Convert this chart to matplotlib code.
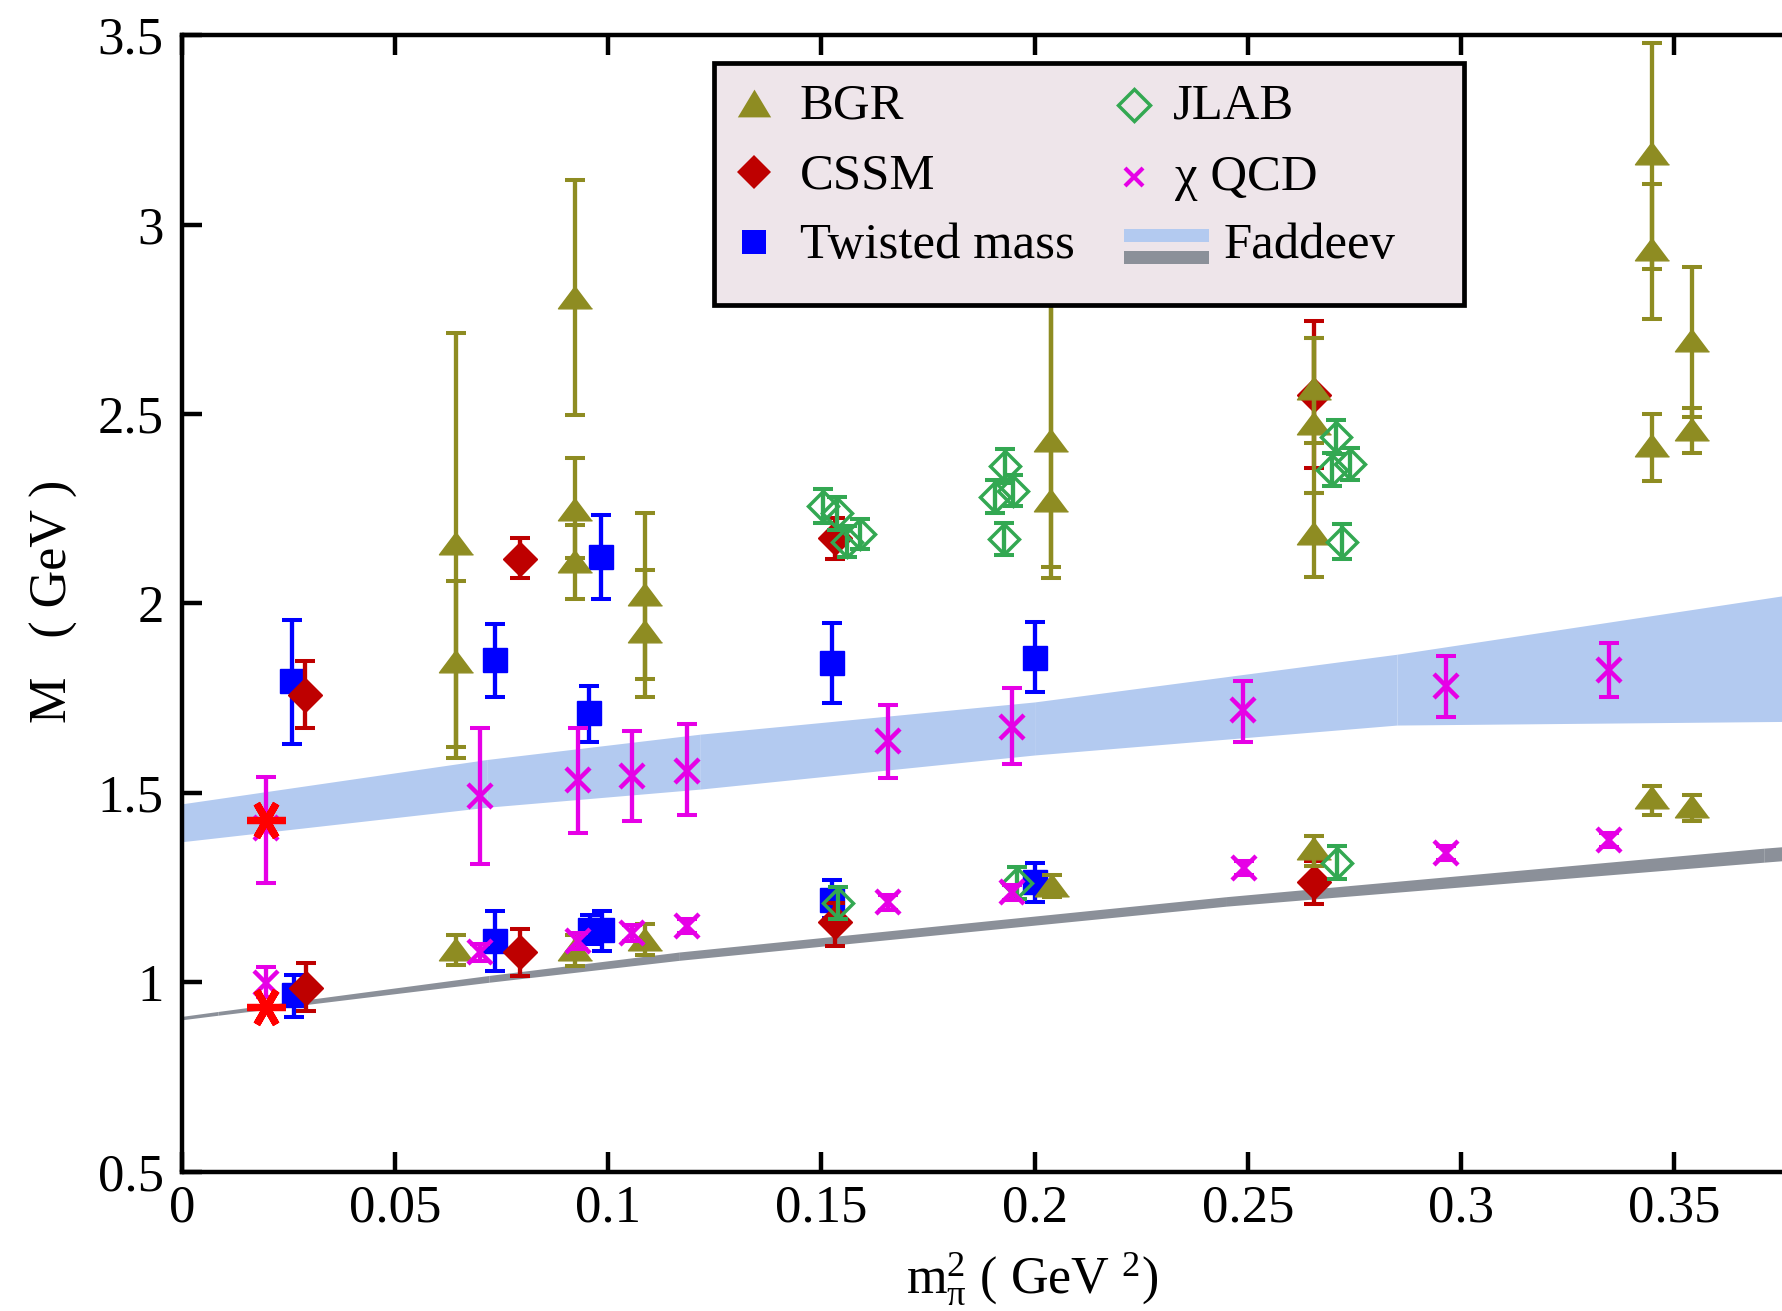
import matplotlib.pyplot as plt
import matplotlib.transforms as mtrans
from matplotlib.lines import Line2D
from matplotlib.patches import Rectangle
import numpy as np

# Nukleon- und Roper-Masse gegen m_pi^2 (Gitterdaten + Faddeev-Baender)

plt.rcParams['font.family'] = ['Liberation Serif', 'DejaVu Serif']
plt.rcParams['mathtext.fontset'] = 'custom'
plt.rcParams['mathtext.rm'] = 'Liberation Serif'
plt.rcParams['mathtext.it'] = 'Liberation Serif:italic'
plt.rcParams['mathtext.bf'] = 'Liberation Serif:bold'

# ---- Daten ----
bgr_x = [0.0642, 0.0642, 0.0642, 0.0922, 0.0922, 0.0922, 0.0922, 0.1086, 0.1086, 0.1086,
         0.2038, 0.2038, 0.2040, 0.2656, 0.2656, 0.2656, 0.2656, 0.3447, 0.3447, 0.3447,
         0.3447, 0.3541, 0.3541, 0.3541]
bgr_y = [2.160, 1.848, 1.088, 2.810, 2.250, 2.113, 1.088, 2.024, 1.926, 1.115,
         2.432, 2.273, 1.257, 2.568, 2.476, 2.187, 1.354, 3.188, 2.936, 2.417,
         1.489, 2.696, 2.460, 1.466]
bgr_lo = [1.620, 1.593, 1.046, 2.497, 2.120, 2.012, 1.044, 1.800, 1.754, 1.072,
          2.097, 2.068, 1.225, 2.423, 2.291, 2.071, 1.307, 2.882, 2.750, 2.324,
          1.442, 2.493, 2.397, 1.426]
bgr_hi = [2.714, 2.060, 1.125, 3.118, 2.384, 2.206, 1.125, 2.240, 2.088, 1.153,
          2.950, 2.850, 1.283, 2.700, 2.700, 2.291, 1.385, 3.480, 3.106, 2.499,
          1.519, 2.889, 2.515, 1.495]

cssm_x = [0.0290, 0.0291, 0.0793, 0.0793, 0.1532, 0.1532, 0.2656, 0.2656]
cssm_y = [1.758, 0.986, 2.118, 1.079, 2.172, 1.159, 2.550, 1.266]
cssm_lo = [1.672, 0.925, 2.068, 1.017, 2.118, 1.096, 2.358, 1.206]
cssm_hi = [1.848, 1.050, 2.174, 1.141, 2.225, 1.210, 2.745, 1.320]

tm_x = [0.0259, 0.0262, 0.0734, 0.0735, 0.0956, 0.0983, 0.0957, 0.0985, 0.1524, 0.1524,
        0.2001, 0.2001]
tm_y = [1.794, 0.967, 1.851, 1.108, 1.710, 2.123, 1.138, 1.138, 1.844, 1.218, 1.857, 1.266]
tm_lo = [1.629, 0.908, 1.754, 1.029, 1.635, 2.012, 1.100, 1.083, 1.736, 1.170, 1.765, 1.212]
tm_hi = [1.956, 1.020, 1.947, 1.187, 1.782, 2.234, 1.177, 1.189, 1.949, 1.269, 1.950, 1.316]

jlab_x = [0.1504, 0.1536, 0.1560, 0.1590, 0.1907, 0.1931, 0.1950, 0.1928, 0.2697, 0.2708,
          0.2740, 0.2720, 0.1540, 0.1959, 0.2710]
jlab_y = [2.257, 2.238, 2.163, 2.184, 2.282, 2.363, 2.297, 2.170, 2.353, 2.439,
          2.368, 2.163, 1.209, 1.262, 1.316]
jlab_err = [0.044, 0.044, 0.041, 0.040, 0.043, 0.044, 0.041, 0.043, 0.044, 0.044,
            0.043, 0.046, 0.042, 0.042, 0.043]

chi_x = [0.0197, 0.0699, 0.0930, 0.1055, 0.1184, 0.1657, 0.1946, 0.2489, 0.2964, 0.3346,
         0.0197, 0.0699, 0.0930, 0.1055, 0.1184, 0.1657, 0.1948, 0.2490, 0.2964, 0.3347]
chi_y = [1.407, 1.492, 1.534, 1.544, 1.559, 1.637, 1.675, 1.719, 1.782, 1.825,
         0.999, 1.079, 1.109, 1.130, 1.149, 1.211, 1.237, 1.301, 1.341, 1.376]
chi_lo = [1.263, 1.312, 1.395, 1.426, 1.442, 1.538, 1.576, 1.635, 1.701, 1.754,
          0.960, 1.057, 1.088, 1.110, 1.130, 1.192, 1.218, 1.282, 1.322, 1.357]
chi_hi = [1.543, 1.670, 1.672, 1.664, 1.682, 1.733, 1.776, 1.796, 1.862, 1.895,
          1.040, 1.101, 1.131, 1.150, 1.168, 1.230, 1.256, 1.320, 1.360, 1.395]

# physikalischer Punkt
phys_x = [0.0197, 0.0197]
phys_y = [1.429, 0.934]

# Faddeev-Baender (Roper oben, Nukleon unten)
fad_r_x = [0.0, 0.0715, 0.1216, 0.2, 0.285, 0.38]
fad_r_lo = [1.371, 1.462, 1.510, 1.600, 1.679, 1.689]
fad_r_hi = [1.471, 1.588, 1.655, 1.740, 1.866, 2.028]

fad_n_x = [0.0, 0.0085, 0.072, 0.1167, 0.245, 0.371, 0.38]
fad_n_lo = [0.901, 0.913, 1.000, 1.058, 1.201, 1.317, 1.325]
fad_n_hi = [0.910, 0.923, 1.018, 1.080, 1.226, 1.354, 1.362]

xticks = [0, 0.05, 0.1, 0.15, 0.2, 0.25, 0.3, 0.35]
xtick_labels = ['0', '0.05', '0.1', '0.15', '0.2', '0.25', '0.3', '0.35']
yticks = [0.5, 1, 1.5, 2, 2.5, 3, 3.5]
ytick_labels = ['0.5', '1', '1.5', '2', '2.5', '3', '3.5']

c_bgr = '#8E8C22'
c_cssm = '#BE0000'
c_tm = '#0000FF'
c_jlab = '#33A852'
c_chi = '#E600E6'
c_phys = '#FF0000'
c_band = '#B3CAF0'
c_gray = '#8B9099'

W, H = 1782, 1311
fs_tick = 38
fs_lab = 37.5
fs_leg = 36.5

fig = plt.figure(figsize=(W / 100, H / 100), dpi=100)
ax = fig.add_axes([181.8 / W, (H - 1171.7) / H, 1620.3 / W, (1171.7 - 35.2) / H])

# Baender stueckweise fuellen
for i in range(len(fad_r_x) - 1):
    ax.fill_between(fad_r_x[i:i + 2], fad_r_lo[i:i + 2], fad_r_hi[i:i + 2],
                    color=c_band, lw=0, zorder=1)
for i in range(len(fad_n_x) - 1):
    ax.fill_between(fad_n_x[i:i + 2], fad_n_lo[i:i + 2], fad_n_hi[i:i + 2],
                    color=c_gray, lw=0, zorder=1)


def punkte(x, y, lo, hi, z, **kw):
    y = np.array(y)
    err = [y - np.array(lo), np.array(hi) - y]
    ax.errorbar(x, y, yerr=err, ls='none', capsize=7.2, capthick=2.9,
                elinewidth=3.1, zorder=z, **kw)


tri = [(0, 1), (-1.5, -1), (1.5, -1)]

punkte(tm_x, tm_y, tm_lo, tm_hi, 3, marker='s', ms=17.3, color=c_tm)
punkte(cssm_x, cssm_y, cssm_lo, cssm_hi, 4, marker='D', ms=17, color=c_cssm)
punkte(bgr_x, bgr_y, bgr_lo, bgr_hi, 5, marker=tri, ms=24.5, color=c_bgr)
jlab_y_arr = np.array(jlab_y)
punkte(jlab_x, jlab_y, jlab_y_arr - np.array(jlab_err), jlab_y_arr + np.array(jlab_err), 6,
       marker='D', ms=15.5, mfc='none', mec=c_jlab, color=c_jlab)
punkte(chi_x, chi_y, chi_lo, chi_hi, 7, marker='x', ms=17, mec=c_chi, color=c_chi)
# dickere Marker (mew wuerde sonst die Kappen aendern)
for ln in ax.lines:
    if ln.get_marker() == 'x':
        ln.set_markeredgewidth(3.2)
    elif ln.get_marker() == 'D' and ln.get_markerfacecolor() == 'none':
        ln.set_markeredgewidth(2.5)
ax.plot(phys_x, phys_y, ls='none', marker=(6, 2, 90), ms=28, mew=5.2, color=c_phys, zorder=8)

ax.set_xlim(0, 0.38)
ax.set_ylim(0.5, 3.5)
ax.set_xticks(xticks)
ax.set_xticklabels(xtick_labels)
ax.set_yticks(yticks)
ax.set_yticklabels(ytick_labels)
ax.tick_params(direction='in', length=14.5, width=3.2, labelsize=fs_tick, top=True, right=True)
ax.tick_params(axis='x', pad=9)
ax.tick_params(axis='y', pad=13)
for s in ax.spines.values():
    s.set_linewidth(3.2)

# Pixelkoordinaten (von oben links) -> Figure
tpx = mtrans.Affine2D().scale(1 / W, -1 / H).translate(0, 1) + fig.transFigure

ax.set_xlabel(r'm$_{\mathrm{π}}^{\mathrm{2}}$ ( GeV $^{\mathrm{2}}$)', fontsize=fs_lab)
ax.xaxis.label.set_va('baseline')
ax.xaxis.set_label_coords(1032, 1293, transform=tpx)
ax.set_ylabel('M   ( GeV )', fontsize=fs_lab)
ax.yaxis.label.set_va('center')
ax.yaxis.set_label_coords(54, 601, transform=tpx)

# Legende von Hand
fig.add_artist(Rectangle((714, 63.3), 749.7, 241.7, transform=tpx, facecolor='#EEE5EA',
                         edgecolor='black', lw=3.4, zorder=10))
leg_tri = [(0, 1), (-1.2, -1), (1.2, -1)]
eintraege = [
    (754, 102.5, dict(marker=leg_tri, ms=24, color=c_bgr, mew=0), 799.5, 118.3, 'BGR'),
    (754, 171.7, dict(marker='D', ms=17.5, color=c_cssm, mew=0), 799.5, 188.3, 'CSSM'),
    (754, 241.7, dict(marker='s', ms=17.5, color=c_tm, mew=0), 799.5, 258.3, 'Twisted mass'),
    (1134.4, 105, dict(marker='D', ms=16, mfc='none', mec=c_jlab, mew=2.5), 1172.6, 118.3, 'JLAB'),
    (1134, 176.7, dict(marker='x', ms=13, mew=3, color=c_chi), 1175, 190, 'χ QCD'),
]
for mx, my, st, tx, ty, name in eintraege:
    fig.add_artist(Line2D([mx], [my], transform=tpx, ls='none', zorder=11, **st))
    fig.text(tx, ty, name, transform=tpx, fontsize=fs_leg, va='baseline', zorder=11)
fig.add_artist(Rectangle((1123.9, 229), 84.6, 13.3, transform=tpx, color=c_band, lw=0, zorder=11))
fig.add_artist(Rectangle((1123.9, 251), 84.6, 13.3, transform=tpx, color=c_gray, lw=0, zorder=11))
fig.text(1223.4, 258.3, 'Faddeev', transform=tpx, fontsize=fs_leg, va='baseline', zorder=11)

fig.savefig('out.png', dpi=100)
